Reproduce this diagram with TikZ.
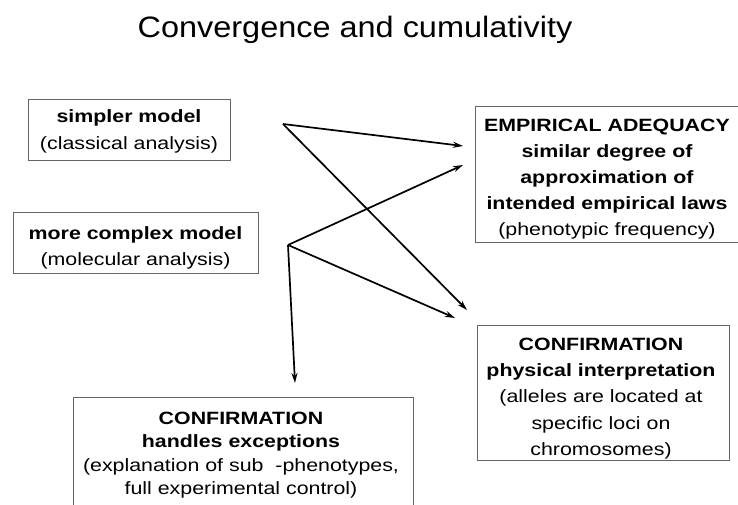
\documentclass[tikz,border=0pt]{standalone}
\usepackage{fontspec}
\setmainfont[FakeStretch=1.2]{Liberation Sans}
\newfontfamily\titlefont[FakeStretch=1.1]{Liberation Sans}
\usetikzlibrary{arrows.meta}
\begin{document}
\begin{tikzpicture}[x=1pt,y=-1pt,
  boxline/.style={draw=black!60, line width=0.8pt},
  box/.style={boxline, inner sep=0pt},
  tx/.style={inner sep=0pt, align=center},
  conn/.style={line width=1.7pt, -{Stealth[length=10pt,width=6pt]}}
]
\useasboundingbox[fill=white] (0,0) rectangle (738,505);

% title
\node[tx, anchor=base, font=\titlefont\fontsize{29.5}{34}\selectfont] (title) at (355,38) {Convergence and cumulativity};

% left boxes
\node[box, minimum width=202pt, minimum height=61pt] (simple) at (129,129.5) {};
\node[tx, font=\fontsize{17.8}{27.5}\selectfont] (simpletx) at (129,131.5)
  {\textbf{simpler model}\\(classical analysis)};
\node[box, minimum width=245pt, minimum height=61pt] (complex) at (135.5,243) {};
\node[tx, font=\fontsize{17.8}{26}\selectfont] (complextx) at (135.5,248)
  {\textbf{more complex model}\\(molecular analysis)};

% right boxes
\node[box, minimum width=264pt, minimum height=136pt] (emp) at (607,174) {};
\node[tx, font=\fontsize{17.8}{26}\selectfont] (emptx) at (607,179.5)
  {\textbf{EMPIRICAL ADEQUACY}\\\textbf{similar degree of}\\\textbf{approximation of}\\\textbf{intended empirical laws}\\(phenotypic frequency)};
\node[box, minimum width=252pt, minimum height=135pt] (phys) at (603,392.5) {};
\node[tx, font=\fontsize{17.8}{26.2}\selectfont] (phystx) at (601,398.5)
  {\textbf{CONFIRMATION}\\\textbf{physical interpretation}\\(alleles are located at\\specific loci on\\chromosomes)};

% bottom box (open at the bottom edge)
\node[tx, font=\fontsize{17.8}{23.5}\selectfont] (hand) at (241,455)
  {\textbf{CONFIRMATION}\\\textbf{handles exceptions}\\(explanation of sub~~-phenotypes,\\full experimental control)};
\draw[boxline] (73,505) |- (413,397) -- (413,505);

% connector points
\coordinate (s1) at (283,124);
\coordinate (s2) at (288,245);
\coordinate (e1) at (463,146);
\coordinate (e2) at (463,165);
\coordinate (p1) at (467,310);
\coordinate (p2) at (455,318);
\coordinate (b1) at (295,383);

\draw[conn] (s1) -- (e1);
\draw[conn] (s1) -- (p1);
\draw[conn] (s2) -- (e2);
\draw[conn] (s2) -- (p2);
\draw[conn] (s2) -- (b1);
\end{tikzpicture}
\end{document}
